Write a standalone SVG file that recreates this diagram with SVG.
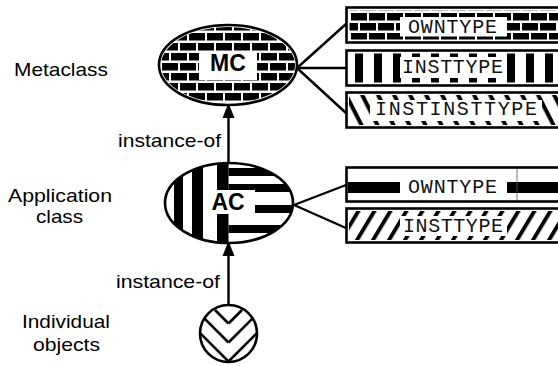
<svg xmlns="http://www.w3.org/2000/svg" width="558" height="366" viewBox="0 0 558 366">
  <style>
    .lbl { font-family: "Liberation Sans", Arial, sans-serif; font-size: 19px; fill: #000; }
    .big { font-family: "Liberation Sans", Arial, sans-serif; font-size: 23px; font-weight: bold; fill: #000; text-anchor: middle; }
    .mono { font-family: "Liberation Mono", "Courier New", monospace; font-size: 20px; fill: #111; }
    .outline { fill: none; stroke: #000; stroke-width: 2.6; }
    .wire { fill: none; stroke: #000; stroke-width: 2.4; }
    .vein { fill: none; stroke: #000; stroke-width: 2.6; }
    .paper { fill: #fff; stroke: none; }
  </style>
  <defs>
    <!-- brick texture -->
    <pattern id="brick" patternUnits="userSpaceOnUse" x="0" y="3" width="18" height="20">
      <rect x="0" y="0" width="16" height="7.5" fill="#000"/>
      <rect x="-9" y="10" width="16" height="7.5" fill="#000"/>
      <rect x="9" y="10" width="16" height="7.5" fill="#000"/>
    </pattern>
    <!-- vertical bars -->
    <pattern id="vbars" patternUnits="userSpaceOnUse" x="355" y="0" width="19" height="10">
      <rect x="0" y="0" width="8" height="10" fill="#000"/>
    </pattern>
    <!-- back-slash hatch -->
    <pattern id="hatchBack" patternUnits="userSpaceOnUse" x="0" y="0" width="16" height="20" patternTransform="skewX(27)">
      <rect x="7.5" y="0" width="4.5" height="20" fill="#000"/>
    </pattern>
    <!-- forward-slash hatch -->
    <pattern id="hatchFwd" patternUnits="userSpaceOnUse" x="0" y="0" width="16" height="20" patternTransform="skewX(-31)">
      <rect x="3" y="0" width="4.5" height="20" fill="#000"/>
    </pattern>
    <clipPath id="acClip"><ellipse cx="229" cy="203" rx="64" ry="40"/></clipPath>
    <clipPath id="objClip"><circle cx="228.5" cy="333.5" r="28.5"/></clipPath>
    <marker id="tip" viewBox="0 0 12 15" refX="12" refY="7.5" markerWidth="12" markerHeight="15" markerUnits="userSpaceOnUse" orient="auto">
      <path d="M0,1.5 L15,7.5 L0,13.5 z" fill="#000"/>
    </marker>
  </defs>

  <!-- row labels -->
  <g id="labels">
    <text class="lbl" x="14" y="76" textLength="94" lengthAdjust="spacingAndGlyphs">Metaclass</text>
    <text class="lbl" x="118" y="147" textLength="103" lengthAdjust="spacingAndGlyphs">instance-of</text>
    <text class="lbl" x="8" y="202" textLength="104" lengthAdjust="spacingAndGlyphs">Application</text>
    <text class="lbl" x="36" y="223" textLength="47" lengthAdjust="spacingAndGlyphs">class</text>
    <text class="lbl" x="116" y="288" textLength="104" lengthAdjust="spacingAndGlyphs">instance-of</text>
    <text class="lbl" x="22" y="328" textLength="88" lengthAdjust="spacingAndGlyphs">Individual</text>
    <text class="lbl" x="33" y="351" textLength="67" lengthAdjust="spacingAndGlyphs">objects</text>
  </g>

  <!-- connectors -->
  <g id="connectors">
    <line class="wire" x1="228.5" y1="163" x2="228.5" y2="106" marker-end="url(#tip)"/>
    <line class="wire" x1="228.5" y1="362" x2="228.5" y2="244" marker-end="url(#tip)"/>
    <line class="wire" x1="346" y1="24" x2="297" y2="68"/>
    <line class="wire" x1="346" y1="68" x2="297" y2="68"/>
    <line class="wire" x1="346" y1="113" x2="297" y2="68"/>
    <line class="wire" x1="346" y1="185" x2="294" y2="205"/>
    <line class="wire" x1="346" y1="228" x2="294" y2="205"/>
  </g>

  <!-- metaclass node -->
  <g id="mc">
    <ellipse class="paper" cx="228" cy="65" rx="69" ry="40"/>
    <ellipse cx="228" cy="65" rx="67" ry="38" fill="url(#brick)"/>
    <rect class="paper" x="199" y="51" width="58" height="29"/>
    <text class="big" x="228" y="71">MC</text>
    <ellipse class="outline" cx="228" cy="65" rx="69" ry="40"/>
  </g>

  <!-- application class node -->
  <g id="ac">
    <ellipse class="paper" cx="229" cy="203" rx="64" ry="40"/>
    <g clip-path="url(#acClip)" fill="#000">
      <rect x="174" y="160" width="9" height="90"/>
      <rect x="192" y="160" width="11" height="90"/>
      <rect x="217" y="160" width="11.5" height="90"/>
      <rect x="228.5" y="168" width="80" height="8"/>
      <rect x="228.5" y="184" width="80" height="8"/>
      <rect x="228.5" y="205" width="80" height="8"/>
      <rect x="228.5" y="225" width="80" height="8"/>
    </g>
    <rect class="paper" x="207" y="190" width="48" height="24"/>
    <text class="big" x="228" y="210">AC</text>
    <ellipse class="outline" cx="229" cy="203" rx="64" ry="40"/>
  </g>

  <!-- individual object node -->
  <g id="obj">
    <circle class="paper" cx="228.5" cy="333.5" r="28.5"/>
    <g clip-path="url(#objClip)">
      <line class="vein" x1="215" y1="310" x2="228.5" y2="323.5"/>
      <line class="vein" x1="190" y1="304" x2="228.5" y2="342.5"/>
      <line class="vein" x1="190" y1="323" x2="228.5" y2="361.5"/>
      <line class="vein" x1="190" y1="340" x2="228.5" y2="378.5"/>
      <line class="vein" x1="228.5" y1="323.5" x2="242" y2="310"/>
      <line class="vein" x1="228.5" y1="342.5" x2="267" y2="304"/>
      <line class="vein" x1="228.5" y1="361.5" x2="267" y2="323"/>
      <line class="vein" x1="228.5" y1="378.5" x2="267" y2="340"/>
    </g>
    <circle class="outline" cx="228.5" cy="333.5" r="28.5"/>
  </g>

  <!-- metaclass type boxes -->
  <g id="mc-owntype">
    <rect class="paper" x="346.5" y="7.5" width="240" height="35"/>
    <rect x="349.5" y="10.5" width="240" height="29" fill="url(#brick)"/>
    <rect class="paper" x="400" y="17" width="107" height="19.5"/>
    <text class="mono" x="408" y="33" textLength="89">OWNTYPE</text>
    <rect class="outline" x="346.5" y="7.5" width="240" height="35"/>
  </g>
  <g id="mc-insttype">
    <rect class="paper" x="346.5" y="50.5" width="240" height="35"/>
    <rect x="349.5" y="53.5" width="240" height="29" fill="url(#vbars)"/>
    <rect class="paper" x="400" y="57" width="107" height="21"/>
    <text class="mono" x="402" y="73" textLength="101">INSTTYPE</text>
    <rect class="outline" x="346.5" y="50.5" width="240" height="35"/>
  </g>
  <g id="mc-instinsttype">
    <rect class="paper" x="346.5" y="92.5" width="240" height="35"/>
    <rect x="349" y="95" width="240" height="30" fill="url(#hatchBack)"/>
    <rect class="paper" x="370" y="100" width="172" height="21"/>
    <text class="mono" x="375" y="115" textLength="162">INSTINSTTYPE</text>
    <rect class="outline" x="346.5" y="92.5" width="240" height="35"/>
  </g>

  <!-- application class type boxes -->
  <g id="ac-owntype">
    <rect class="paper" x="346.5" y="167.5" width="240" height="34"/>
    <rect x="348" y="182" width="240" height="11" fill="#000"/>
    <line x1="517" y1="169" x2="517" y2="200" stroke="#555" stroke-width="0.8"/>
    <rect class="paper" x="400" y="178" width="107" height="19"/>
    <text class="mono" x="408" y="193" textLength="89">OWNTYPE</text>
    <rect class="outline" x="346.5" y="167.5" width="240" height="34"/>
  </g>
  <g id="ac-insttype">
    <rect class="paper" x="346.5" y="208.5" width="240" height="34"/>
    <rect x="349" y="211" width="240" height="29" fill="url(#hatchFwd)"/>
    <rect class="paper" x="400" y="216" width="107" height="20"/>
    <text class="mono" x="403" y="232" textLength="100">INSTTYPE</text>
    <rect class="outline" x="346.5" y="208.5" width="240" height="34"/>
  </g>
</svg>
